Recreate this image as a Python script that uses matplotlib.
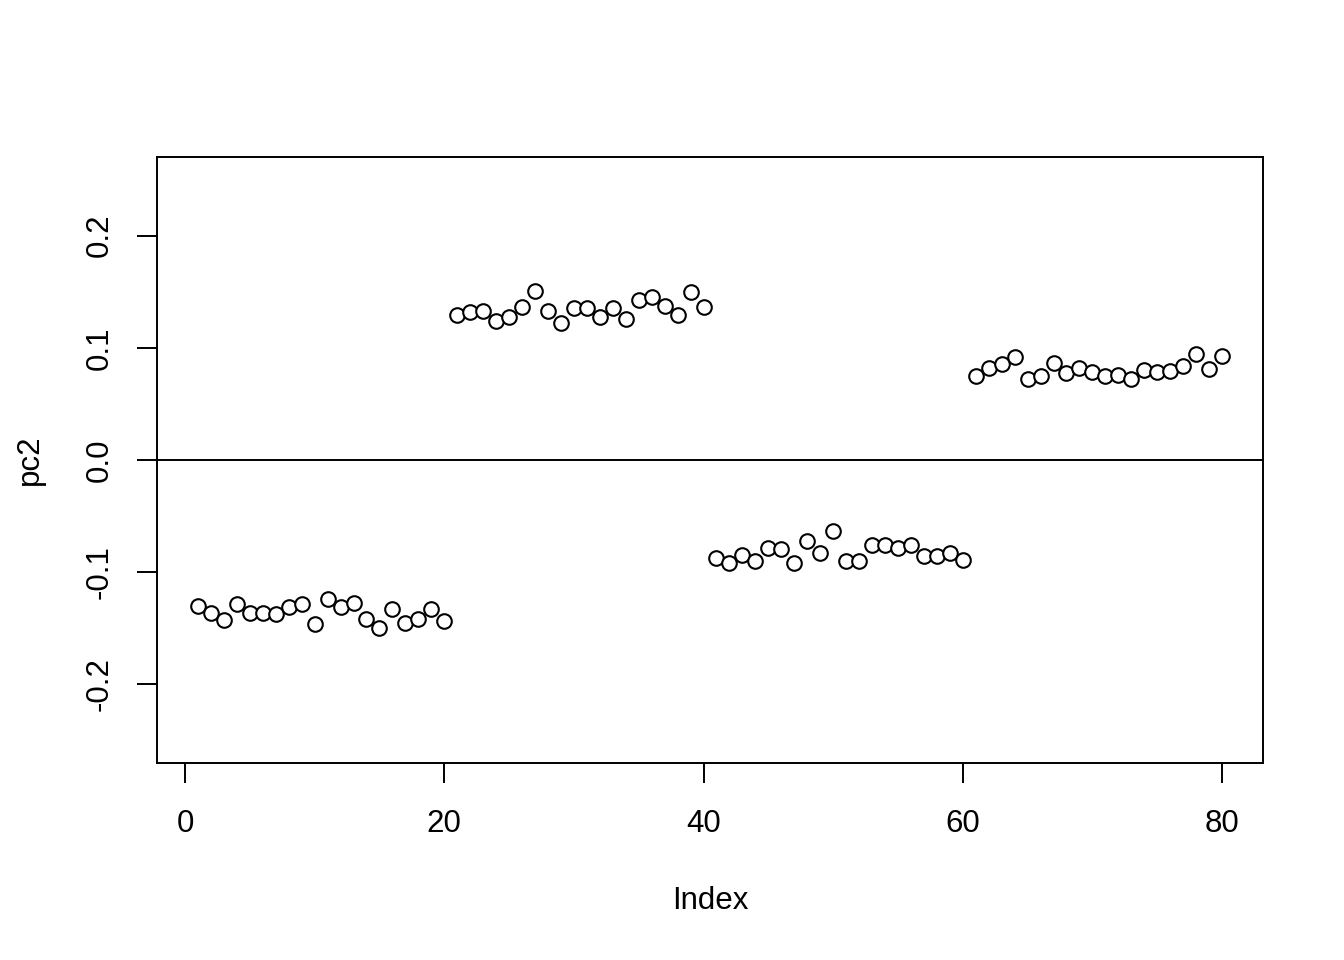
import numpy as np
import matplotlib.pyplot as plt

plt.rcParams['font.family'] = ['Liberation Sans', 'DejaVu Sans']

# --- Data ---
pc2 = [
    # 1-20
    -0.1304, -0.1366, -0.1429, -0.1286, -0.1366, -0.1366, -0.1375, -0.1313, -0.1286, -0.1464,
    -0.1241, -0.1313, -0.1277, -0.1420, -0.1500, -0.1330, -0.1455, -0.1420, -0.1330, -0.1438,
    # 21-40
    0.1295, 0.1321, 0.1330, 0.1241, 0.1277, 0.1366, 0.1509, 0.1330, 0.1223, 0.1357,
    0.1357, 0.1277, 0.1357, 0.1259, 0.1429, 0.1455, 0.1375, 0.1295, 0.1500, 0.1366,
    # 41-60
    -0.0875, -0.0920, -0.0848, -0.0902, -0.0786, -0.0795, -0.0920, -0.0723, -0.0830, -0.0634,
    -0.0902, -0.0902, -0.0759, -0.0759, -0.0786, -0.0759, -0.0857, -0.0857, -0.0830, -0.0893,
    # 61-80
    0.0750, 0.0821, 0.0857, 0.0920, 0.0723, 0.0750, 0.0866, 0.0777, 0.0821, 0.0786,
    0.0750, 0.0759, 0.0723, 0.0804, 0.0786, 0.0795, 0.0839, 0.0946, 0.0813, 0.0929,
]
index = np.arange(1, len(pc2) + 1)
x_ticks = [0, 20, 40, 60, 80]
y_ticks = [-0.2, -0.1, 0.0, 0.1, 0.2]
y_tick_labels = ['-0.2', '-0.1', '0.0', '0.1', '0.2']

# --- Plot (base R style) ---
fig = plt.figure(figsize=(13.44, 9.6), dpi=100)
ax = fig.add_axes([157 / 1344, 197 / 960, 1106 / 1344, 606 / 960])

ax.plot(index, pc2, linestyle='none', marker='o', markersize=10.5,
        markerfacecolor='white', markeredgecolor='black', markeredgewidth=1.5)
ax.axhline(0, color='black', linewidth=1.4, zorder=1)

ax.set_xlim(1 - 0.04 * 79, 80 + 0.04 * 79)
ax.set_ylim(-0.25 * 1.08, 0.25 * 1.08)

for s in ax.spines.values():
    s.set_linewidth(1.4)

ax.set_xticks(x_ticks)
ax.set_xticklabels([str(t) for t in x_ticks])
ax.set_yticks(y_ticks)
ax.set_yticklabels(y_tick_labels, rotation=90, va='center')
ax.tick_params(axis='both', direction='out', length=14.4, width=1.4,
               labelsize=22.5)
ax.tick_params(axis='x', pad=19)
ax.tick_params(axis='y', pad=16)

ax.set_xlabel('Index', fontsize=22.5)
ax.set_ylabel('pc2', fontsize=22.5)
ax.xaxis.set_label_coords(0.5, (763 - 901) / 606)
ax.xaxis.label.set_va('center')
ax.yaxis.set_label_coords((30 - 157) / 1106, 0.5)
ax.yaxis.label.set_va('center')

fig.savefig('out.png', dpi=100)
